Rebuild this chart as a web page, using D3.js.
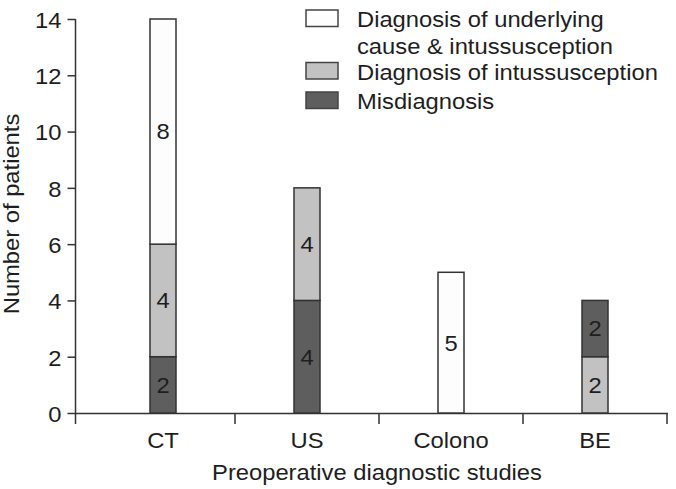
<!DOCTYPE html>
<html>
<head>
<meta charset="UTF-8">
<title>Preoperative diagnostic studies</title>
<script src="https://cdn.jsdelivr.net/npm/d3@7/dist/d3.min.js"></script>
<style>
  body { margin: 0; background: #fff; }
  svg text { font-family: "Liberation Sans", Arial, sans-serif; font-size: 22px; fill: #1e1e1e; }
</style>
</head>
<body>
<svg width="676" height="489"></svg>
<script>
// data
var categories = ["CT", "US", "Colono", "BE"];
var underlying = [8, 0, 5, 0];      // Diagnosis of underlying cause & intussusception
var intus = [4, 4, 0, 2];           // Diagnosis of intussusception
var misdiag = [2, 4, 0, 2];         // Misdiagnosis
// stacking order (bottom -> top) per category, BE has light bar at the bottom
var stackOrders = [
  ["misdiag", "intus", "underlying"],
  ["misdiag", "intus", "underlying"],
  ["misdiag", "intus", "underlying"],
  ["intus", "misdiag", "underlying"]
];
var yTicks = [0, 2, 4, 6, 8, 10, 12, 14];

var series = { underlying: underlying, intus: intus, misdiag: misdiag };
var colors = { underlying: "#fdfdfd", intus: "#c2c2c2", misdiag: "#5e5e5e" };
var legendItems = [
  { key: "underlying", lines: ["Diagnosis of underlying", "cause & intussusception"] },
  { key: "intus", lines: ["Diagnosis of intussusception"] },
  { key: "misdiag", lines: ["Misdiagnosis"] }
];

var SX = 1.08; // the original font is a bit wider than Arial
var svg = d3.select("svg");

var x = d3.scaleBand().domain(categories).range([91, 667]).padding(0);
var y = d3.scaleLinear().domain([0, 14]).range([413, 19]);
var barW = 26;

// build segments
var segs = [];
categories.forEach(function(c, i) {
  var base = 0;
  stackOrders[i].forEach(function(k) {
    var v = series[k][i];
    if (v > 0) {
      segs.push({ cat: c, key: k, y0: base, y1: base + v, v: v });
      base += v;
    }
  });
});

// axes
var yAxis = d3.axisLeft(y).tickValues(yTicks).tickSize(8).tickSizeOuter(0).tickPadding(6);
var gy = svg.append("g").attr("transform", "translate(75.5,0)").call(yAxis);
gy.select(".domain").remove();
gy.selectAll(".tick line").attr("stroke", "#333").attr("stroke-width", 1.5);
gy.selectAll(".tick text")
  .attr("x", -14 / SX)
  .attr("dy", "0.38em")
  .attr("transform", "scale(" + SX + ",1)")
  .style("font-size", "22px")
  .style("font-family", "'Liberation Sans', Arial, sans-serif")
  .attr("fill", "#1e1e1e");

svg.append("line")
  .attr("x1", 75.5).attr("x2", 75.5)
  .attr("y1", y(14)).attr("y2", 424)
  .attr("stroke", "#333").attr("stroke-width", 1.5);

svg.append("line")
  .attr("x1", 75).attr("x2", 668)
  .attr("y1", 413.5).attr("y2", 413.5)
  .attr("stroke", "#333").attr("stroke-width", 1.5);

var xTickPos = categories.slice(1).map(function(c) { return x(c); }).concat([x.range()[1]]);
svg.selectAll(".xtick").data(xTickPos).enter().append("line")
  .attr("class", "xtick")
  .attr("x1", function(d) { return d; }).attr("x2", function(d) { return d; })
  .attr("y1", 413).attr("y2", 424)
  .attr("stroke", "#333").attr("stroke-width", 1.5);

svg.selectAll(".xlab").data(categories).enter().append("text")
  .attr("class", "xlab")
  .attr("text-anchor", "middle")
  .attr("transform", function(d) {
    return "translate(" + (x(d) + x.bandwidth() / 2) + ",448) scale(" + SX + ",1)";
  })
  .text(function(d) { return d; });

// bars
svg.selectAll(".seg").data(segs).enter().append("rect")
  .attr("class", "seg")
  .attr("x", function(d) { return x(d.cat) + x.bandwidth() / 2 - barW / 2; })
  .attr("width", barW)
  .attr("y", function(d) { return y(d.y1); })
  .attr("height", function(d) { return y(d.y0) - y(d.y1); })
  .attr("fill", function(d) { return colors[d.key]; })
  .attr("stroke", "#333")
  .attr("stroke-width", 1.5);

svg.selectAll(".vlab").data(segs).enter().append("text")
  .attr("class", "vlab")
  .attr("text-anchor", "middle")
  .attr("dy", "0.36em")
  .attr("transform", function(d) {
    return "translate(" + (x(d.cat) + x.bandwidth() / 2) + "," + y((d.y0 + d.y1) / 2) + ") scale(" + SX + ",1)";
  })
  .text(function(d) { return d.v; });

// axis titles
svg.append("text")
  .attr("text-anchor", "middle")
  .attr("transform", "translate(377,480) scale(" + SX + ",1)")
  .text("Preoperative diagnostic studies");

svg.append("text")
  .attr("text-anchor", "middle")
  .attr("transform", "translate(19,214) rotate(-90) scale(" + SX + ",1)")
  .text("Number of patients");

// legend
var legY = [10, 62.5, 92];
var lg = svg.append("g");
legendItems.forEach(function(it, i) {
  lg.append("rect")
    .attr("x", 306).attr("y", legY[i])
    .attr("width", 32).attr("height", 16.5)
    .attr("fill", colors[it.key])
    .attr("stroke", "#444").attr("stroke-width", 1.5);
  it.lines.forEach(function(t, j) {
    lg.append("text")
      .attr("transform", "translate(357," + (legY[i] + 17 + j * 26.5) + ") scale(" + SX + ",1)")
      .text(t);
  });
});
</script>
</body>
</html>
